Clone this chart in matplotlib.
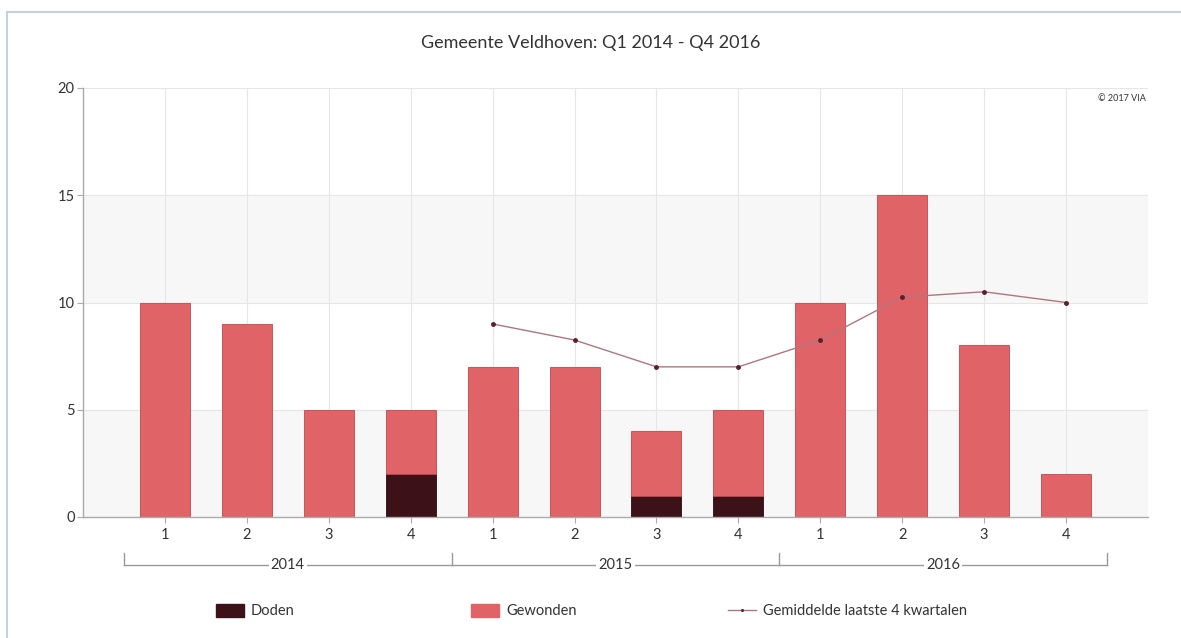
import matplotlib.pyplot as plt
from matplotlib.lines import Line2D
from matplotlib.patches import Patch, Rectangle
import numpy as np

plt.rcParams['font.family'] = ['Lato', 'DejaVu Sans']

# Data
jaren = ["2014", "2015", "2016"]
kwartalen = ["1", "2", "3", "4"] * 3
doden = [0, 0, 0, 2, 0, 0, 1, 1, 0, 0, 0, 0]
gewonden = [10, 9, 5, 3, 7, 7, 3, 4, 10, 15, 8, 2]
gemiddelde = [np.nan, np.nan, np.nan, np.nan, 9.0, 8.25, 7.0, 7.0, 8.25, 10.25, 10.5, 10.0]

c_gewonden = "#e06467"
c_doden = "#3d1118"
c_lijn = "#b07580"
c_punt = "#5a1f2c"

fig = plt.figure(figsize=(11.81, 6.38), dpi=100)
ax = fig.add_axes([83 / 1181, 1 - 517 / 638, 1065 / 1181, 429 / 638])

x = np.arange(len(gewonden))

# achtergrondbanden
for lo in (0, 10):
    ax.axhspan(lo, lo + 5, color="#f7f7f7", zorder=0)
for v in (5, 10, 15, 20):
    ax.axhline(v, color="#e6e6e6", lw=0.8, zorder=0.5)
for xi in x:
    ax.axvline(xi, color="#e6e6e6", lw=0.8, zorder=0.5)

ax.bar(x, doden, width=0.61, color=c_doden, edgecolor="#2a0a10", lw=0.6, zorder=2)
ax.bar(x, gewonden, width=0.61, bottom=doden, color=c_gewonden,
       edgecolor="#c64548", lw=0.6, zorder=2)
ax.plot(x, gemiddelde, color=c_lijn, lw=1.0, zorder=3)
ax.plot(x, gemiddelde, ls="none", marker="o", ms=2.5, color=c_punt, zorder=4)

ax.set_xlim(-1, 12)
ax.set_ylim(0, 20)
ax.set_yticks([0, 5, 10, 15, 20])
ax.set_xticks(x)
ax.set_xticklabels(kwartalen)
ax.tick_params(axis="x", length=4, color="#aaaaaa", labelsize=10.5, labelcolor="#333333", pad=4)
ax.tick_params(axis="y", length=4, color="#aaaaaa", labelsize=10.5, labelcolor="#333333", pad=2)
for s in ("top", "right"):
    ax.spines[s].set_visible(False)
for s in ("left", "bottom"):
    ax.spines[s].set_color("#aaaaaa")
    ax.spines[s].set_linewidth(1.0)

# jaar-groepering onder de as
tr = ax.get_xaxis_transform()
y_lijn = -0.112
y_tick = -0.084
grenzen = [-0.5, 3.5, 7.5, 11.5]
ax.plot([grenzen[0], grenzen[-1]], [y_lijn, y_lijn], color="#999999", lw=1.0,
        transform=tr, clip_on=False)
for g in grenzen:
    ax.plot([g, g], [y_lijn, y_tick], color="#999999", lw=1.0, transform=tr, clip_on=False)
for i, jaar in enumerate(jaren):
    ax.text(i * 4 + 1.5, y_lijn, jaar, transform=tr, ha="center", va="center",
            fontsize=10.5, color="#333333",
            bbox=dict(facecolor="white", edgecolor="none", pad=1.5))

ax.text(0.998, 0.985, "© 2017 VIA", transform=ax.transAxes, ha="right", va="top",
        fontsize=6.5, color="#333333")

fig.text(0.5, 1 - 43 / 638, "Gemeente Veldhoven: Q1 2014 - Q4 2016", ha="center",
         va="center", fontsize=13, color="#333333")

# legenda
items = [
    (Patch(facecolor=c_doden, edgecolor=c_doden), "Doden", 216),
    (Patch(facecolor=c_gewonden, edgecolor=c_gewonden), "Gewonden", 471),
    (Line2D([0], [0], color=c_lijn, lw=1.0, marker="o", ms=1.2, mfc=c_punt, mec=c_punt),
     "Gemiddelde laatste 4 kwartalen", 728),
]
for h, lab, px in items:
    fig.legend([h], [lab], loc="center left", bbox_to_anchor=(px / 1181, 1 - 611 / 638),
               frameon=False, fontsize=10.5, handlelength=1.9, handleheight=1.05,
               handletextpad=0.5, borderpad=0, borderaxespad=0, labelcolor="#333333")

# kader van de schermafbeelding
fig.add_artist(Rectangle((7 / 1181, -0.05), 1.1, 1 - 12 / 638 + 0.05,
                         transform=fig.transFigure, fill=False,
                         edgecolor="#c5d1dd", lw=1.5))

fig.savefig("out.png", dpi=100)
